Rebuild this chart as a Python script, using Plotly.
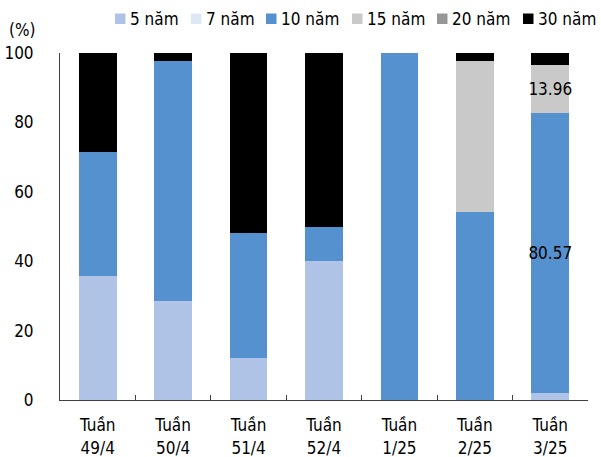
import plotly.graph_objects as go

# Weekly issuance structure by tenor (% of total)
weeks = ["Tuần<br>49/4", "Tuần<br>50/4", "Tuần<br>51/4", "Tuần<br>52/4",
         "Tuần<br>1/25", "Tuần<br>2/25", "Tuần<br>3/25"]

tenor_names = ["5 năm", "7 năm", "10 năm", "15 năm", "20 năm", "30 năm"]
tenor_colors = ["#AFC3E6", "#DEE7F5", "#5591CE", "#C9C9C9", "#969696", "#000000"]

y5 = [35.7, 28.6, 12.1, 40.0, 0.0, 0.0, 2.1]
y7 = [0.0, 0.0, 0.0, 0.0, 0.0, 0.0, 0.0]
y10 = [35.7, 69.0, 35.9, 9.8, 100.0, 54.2, 80.57]
y15 = [0.0, 0.0, 0.0, 0.0, 0.0, 43.6, 13.96]
y20 = [0.0, 0.0, 0.0, 0.0, 0.0, 0.0, 0.0]
y30 = [28.6, 2.4, 52.0, 50.2, 0.0, 2.2, 3.37]

series = [y5, y7, y10, y15, y20, y30]
# value labels are printed only on the latest week for 10y and 15y
labelled = {"10 năm": [6], "15 năm": [6]}

FONT = "DejaVu Sans Condensed, Liberation Sans, sans-serif"
FS = 17
W, H = 601, 457
ML, MR, MT, MB = 60, 13, 53, 57
PW, PH = W - ML - MR, H - MT - MB


def px_x(px):
    return (px - ML) / PW


def px_y(py):
    return (H - MB - py) / PH


fig = go.Figure()
for name, color, vals in zip(tenor_names, tenor_colors, series):
    idx = labelled.get(name, [])
    text = [f"{v:.2f}" if i in idx else "" for i, v in enumerate(vals)]
    fig.add_trace(go.Bar(
        x=weeks, y=vals, name=name,
        marker=dict(color=color, line=dict(width=0)),
        text=text, textposition="inside", insidetextanchor="middle",
        textangle=0, constraintext="none",
        textfont=dict(family=FONT, size=FS, color="#000000"),
        width=0.5, showlegend=False,
    ))

# Legend row drawn across the top
legend_px = [115, 191, 266, 352, 437, 523]
shapes = []
annotations = []
for name, color, lx in zip(tenor_names, tenor_colors, legend_px):
    shapes.append(dict(
        type="rect", xref="paper", yref="paper",
        x0=px_x(lx), x1=px_x(lx + 10.5),
        y0=px_y(24), y1=px_y(13.5),
        fillcolor=color, line=dict(width=0), layer="above",
    ))
    annotations.append(dict(
        text=name, xref="paper", yref="paper",
        x=px_x(lx + 13), y=px_y(19), xanchor="left", yanchor="middle",
        showarrow=False, font=dict(family=FONT, size=FS, color="#000000"),
    ))

# unit label above the value axis
annotations.append(dict(
    text="(%)", xref="paper", yref="paper",
    x=px_x(7), y=px_y(27), xanchor="left", yanchor="middle",
    showarrow=False, font=dict(family=FONT, size=FS, color="#000000"),
    yshift=-3,
))

fig.update_layout(
    barmode="stack",
    width=W, height=H,
    margin=dict(l=ML, r=MR, t=MT, b=MB, autoexpand=False),
    paper_bgcolor="white", plot_bgcolor="white",
    font=dict(family=FONT, size=FS, color="#000000"),
    shapes=shapes, annotations=annotations,
    xaxis=dict(
        type="category", range=[-0.5, 6.5], automargin=False,
        showline=True, linecolor="#404040", linewidth=1,
        ticks="inside", tickson="boundaries", ticklen=5,
        tickcolor="#404040", showgrid=False,
        tickfont=dict(family=FONT, size=FS),
        ticklabelstandoff=10,
    ),
    yaxis=dict(
        range=[0, 100], tickvals=[0, 20, 40, 60, 80, 100], automargin=False,
        showline=True, linecolor="#404040", linewidth=1,
        ticks="", showgrid=False, zeroline=False,
        tickfont=dict(family=FONT, size=FS),
        ticklabelstandoff=22,
    ),
)

fig.write_html("out.html")
